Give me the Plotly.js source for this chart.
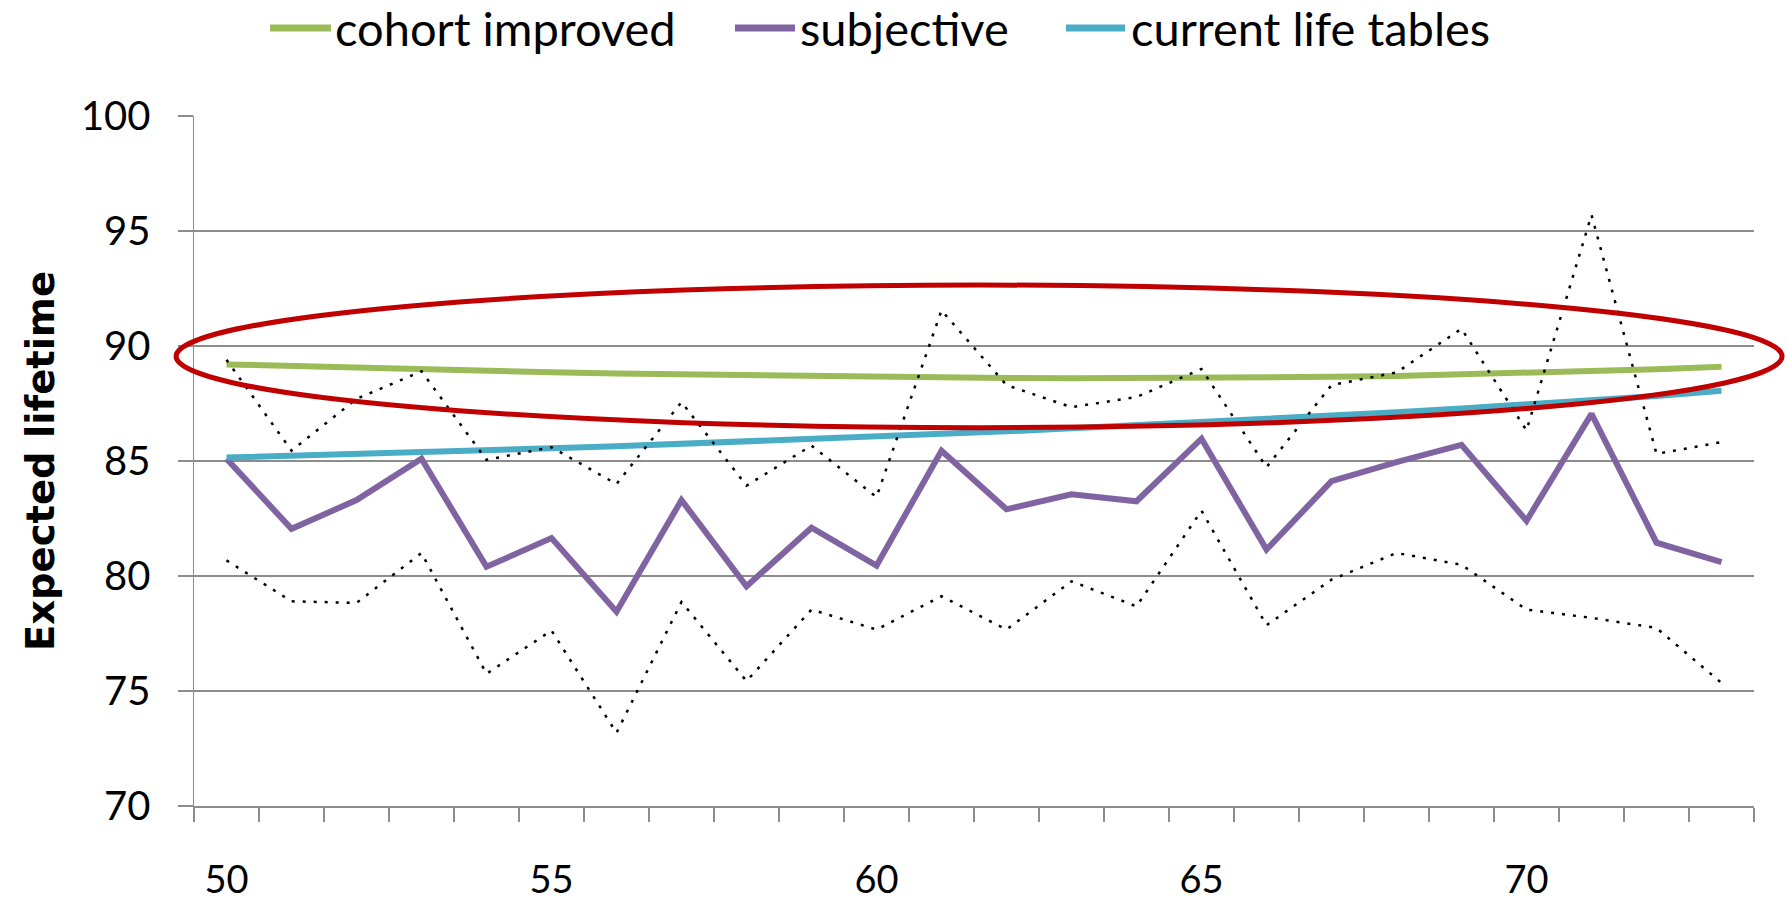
<!DOCTYPE html>
<html>
<head>
<meta charset="utf-8">
<script src="https://cdn.plot.ly/plotly-3.0.1.min.js"></script>
<style>
html, body { margin: 0; padding: 0; background: #ffffff; }
#chart { width: 1788px; height: 900px; }
</style>
</head>
<body>
<div id="chart"></div>
<script>
// Age (x categories)
const ages = [50,51,52,53,54,55,56,57,58,59,60,61,62,63,64,65,66,67,68,69,70,71,72,73];
const xTickVals = [50,55,60,65,70];
const xTickText = ["50","55","60","65","70"];

// Series values
const cohortImproved = [89.2,89.12,89.05,88.98,88.92,88.86,88.8,88.76,88.72,88.68,88.65,88.63,88.61,88.6,88.6,88.61,88.63,88.66,88.7,88.76,88.82,88.9,88.99,89.1];
const subjective = [85.1,82.05,83.3,85.1,80.4,81.65,78.45,83.3,79.55,82.1,80.45,85.45,82.9,83.55,83.25,85.97,81.15,84.12,84.95,85.7,82.4,87.05,81.45,80.6];
const currentLifeTables = [85.15,85.22,85.3,85.38,85.46,85.55,85.64,85.74,85.84,85.95,86.06,86.17,86.29,86.42,86.55,86.68,86.82,86.97,87.12,87.28,87.45,87.63,87.83,88.05];
const upperBound = [89.4,85.45,87.7,88.9,85.05,85.6,84.0,87.56,83.93,85.67,83.43,91.55,88.3,87.34,87.78,89.0,84.73,88.3,88.85,90.75,86.33,95.7,85.31,85.82];
const lowerBound = [80.68,78.9,78.83,81.0,75.75,77.63,73.18,78.87,75.43,78.54,77.67,79.12,77.67,79.77,78.68,82.84,77.86,79.84,81.0,80.49,78.54,78.18,77.74,75.35];

const seriesNames = ["cohort improved", "subjective", "current life tables"];
const yTitle = "Expected lifetime";

// Highlight ellipse extent (in y data units)
const ellipseY = [86.45, 92.65];

const GREEN = "#9BBB59", PURPLE = "#8064A2", BLUE = "#4BACC6", RED = "#C00000";
const COLORS = [GREEN, PURPLE, BLUE];
const FONT = "Lato, 'Open Sans', sans-serif";

const traces = [
  { x: ages, y: cohortImproved, name: seriesNames[0], type: "scatter", mode: "lines",
    line: { color: GREEN, width: 6 } },
  { x: ages, y: subjective, name: seriesNames[1], type: "scatter", mode: "lines",
    line: { color: PURPLE, width: 6 } },
  { x: ages, y: currentLifeTables, name: seriesNames[2], type: "scatter", mode: "lines",
    line: { color: BLUE, width: 6 } },
  { x: ages, y: upperBound, name: "upper", type: "scatter", mode: "lines",
    line: { color: "#000000", width: 2.5, dash: "3px,8px" } },
  { x: ages, y: lowerBound, name: "lower", type: "scatter", mode: "lines",
    line: { color: "#000000", width: 2.5, dash: "3px,8px" } }
];

const GRID = "#8c8c8c";

// Legend geometry (page pixels -> paper coordinates)
const PL = 194, PW = 1560, PB = 806, PH = 690;
const px = v => (v - PL) / PW;
const py = v => (PB - v) / PH;
const legendSwatch = [[270, 331], [735, 795], [1066, 1125]];
const legendTextX = [333, 798, 1129];
const legendY = 28;

const shapes = [{
  type: "circle", xref: "paper", yref: "y",
  x0: -0.0115, x1: 1.018, y0: ellipseY[0], y1: ellipseY[1],
  line: { color: RED, width: 5 }, fillcolor: "rgba(0,0,0,0)", layer: "above"
}];
const annotations = [];
seriesNames.forEach((name, i) => {
  shapes.push({
    type: "line", xref: "paper", yref: "paper",
    x0: px(legendSwatch[i][0]), x1: px(legendSwatch[i][1]), y0: py(legendY), y1: py(legendY),
    line: { color: COLORS[i], width: 7 }
  });
  annotations.push({
    xref: "paper", yref: "paper", x: px(legendTextX[i]), y: py(legendY),
    xanchor: "left", yanchor: "middle", showarrow: false, text: name,
    font: { family: FONT, size: 47, color: "#000000" }
  });
});

const layout = {
  width: 1788, height: 900,
  margin: { l: 194, r: 34, t: 116, b: 94, pad: 0 },
  paper_bgcolor: "#ffffff", plot_bgcolor: "#ffffff",
  font: { family: FONT, color: "#000000", size: 40 },
  showlegend: false,
  xaxis: {
    type: "linear", range: [49.5, 73.5],
    tickmode: "array", tickvals: xTickVals, ticktext: xTickText,
    ticks: "", ticklabelstandoff: 40,
    tickfont: { family: FONT, size: 38, color: "#000000" },
    showgrid: false, zeroline: false,
    showline: true, linecolor: GRID, linewidth: 1.5,
    minor: { tick0: 49.5, dtick: 1, ticks: "outside", ticklen: 14, tickwidth: 1.5, tickcolor: GRID, showgrid: false }
  },
  yaxis: {
    range: [70, 100], dtick: 5, tick0: 70,
    ticks: "outside", ticklen: 15, tickwidth: 1.5, tickcolor: GRID,
    ticklabelstandoff: 19,
    tickfont: { family: FONT, size: 40, color: "#000000" },
    showgrid: true, gridcolor: GRID, gridwidth: 1.5,
    zeroline: false, showline: true, linecolor: GRID, linewidth: 1.5,
    title: { text: yTitle, standoff: 14,
      font: { family: "'DejaVu Sans', sans-serif", size: 38.5, color: "#000000", weight: "bold" } }
  },
  shapes: shapes,
  annotations: annotations
};

Plotly.newPlot("chart", traces, layout, { staticPlot: true, displayModeBar: false });
</script>
</body>
</html>
